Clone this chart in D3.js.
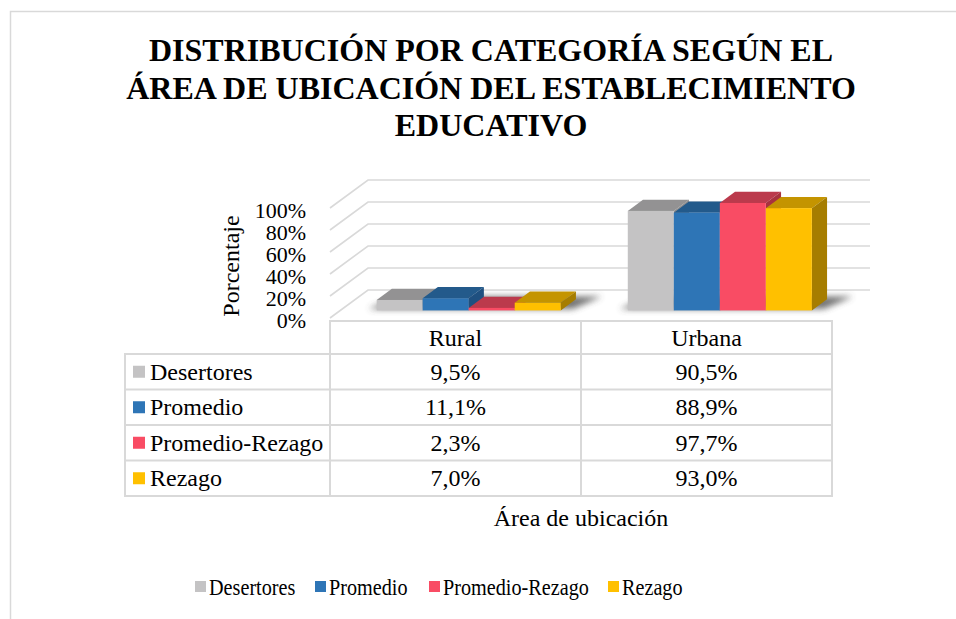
<!DOCTYPE html>
<html>
<head>
<meta charset="utf-8">
<script src="https://cdn.jsdelivr.net/npm/d3@7"></script>
<style>
  body { margin: 0; background: #fff; }
  text { font-family: "Liberation Serif", "Times New Roman", serif; fill: #000; }
</style>
</head>
<body>
<svg id="chart" width="956" height="619"></svg>
<script>
// data
var categories = ["Rural", "Urbana"];
var seriesNames = ["Desertores", "Promedio", "Promedio-Rezago", "Rezago"];
var desertores = [9.5, 90.5];
var promedio = [11.1, 88.9];
var promedioRezago = [2.3, 97.7];
var rezago = [7.0, 93.0];
var yTicks = [0, 20, 40, 60, 80, 100];
var titleLines = ["DISTRIBUCIÓN POR CATEGORÍA SEGÚN EL", "ÁREA DE UBICACIÓN DEL ESTABLECIMIENTO", "EDUCATIVO"];

var seriesValues = [desertores, promedio, promedioRezago, rezago];
// colours: front, top, side
var palette = [
    { front: "#c4c3c4", top: "#939293", side: "#8e8d8e" },
    { front: "#2e75b6", top: "#235a8b", side: "#1f5080" },
    { front: "#f94c64", top: "#bb3a4c", side: "#a8323f" },
    { front: "#ffc000", top: "#c49400", side: "#a67d00" }
];

var svg = d3.select("#chart");

// outer frame
svg.append("rect").attr("x", 10.5).attr("y", 11.5).attr("width", 980).attr("height", 640)
    .style("fill", "none").style("stroke", "#d9d9d9").style("stroke-width", 1.5);

// title
svg.append("g").selectAll("text").data(titleLines).enter().append("text")
    .attr("x", 491).attr("y", function (d, i) { return 61 + i * 37.5; })
    .attr("text-anchor", "middle")
    .style("font-size", "32px").style("font-weight", "bold")
    .text(function (d) { return d; });

// 3D geometry
var left = 330, right = 832;
var depthX = 38, depthY = -28;
var y = d3.scaleLinear().domain([0, 100]).range([318, 208]);
var x0 = d3.scaleBand().domain(categories).range([left, right]).paddingInner(0.267).paddingOuter(0.133);
var x1 = d3.scaleBand().domain(seriesNames).range([0, x0.bandwidth()]);
var colX = d3.scaleBand().domain(categories).range([left, right]);

function proj(px, v, z) { return [px + z * depthX, y(v) + z * depthY]; }
function poly(pts) { return pts.map(function (p) { return p[0] + "," + p[1]; }).join(" "); }

var defs = svg.append("defs");
defs.append("filter").attr("id", "blur").attr("x", "-50%").attr("y", "-50%").attr("width", "200%").attr("height", "200%")
    .append("feGaussianBlur").attr("stdDeviation", 3);

var grid = svg.append("g");
// back wall gridlines and side wall diagonals
yTicks.forEach(function (t) {
    var a = proj(left, t, 0), b = proj(left, t, 1), c = proj(right, t, 1);
    grid.append("polyline").attr("points", poly([a, b, c]))
        .style("fill", "none").style("stroke", "#d9d9d9").style("stroke-width", 1.6);
});

// y tick labels
svg.append("g").selectAll("text").data(yTicks).enter().append("text")
    .attr("x", 306).attr("y", function (d) { return y(d) + 10; })
    .attr("text-anchor", "end").style("font-size", "22px")
    .text(function (d) { return d + "%"; });

svg.append("text").attr("transform", "translate(239,266) rotate(-90)")
    .attr("text-anchor", "middle").style("font-size", "24px").text("Porcentaje");

// bars
var z0 = 0.27, z1 = 0.67;
var shift = 3;
var barsG = svg.append("g");
categories.forEach(function (cat, ci) {
    var gx = x0(cat) + shift;
    var gw = x0.bandwidth();
    // soft floor shadow
    var sh = [proj(gx - 10, 0, z0 + 0.05), proj(gx + gw + 10, 0, z0 + 0.05), proj(gx + gw + 22, 0, z1 + 0.1), proj(gx + 2, 0, z1 + 0.1)];
    barsG.append("polygon").attr("points", poly(sh)).style("fill", "#444").style("opacity", 0.75).attr("filter", "url(#blur)");
    seriesNames.forEach(function (s, si) {
        var v = seriesValues[si][ci];
        var bx = gx + x1(s), bw = x1.bandwidth();
        var col = palette[si];
        var g = barsG.append("g");
        // top face
        g.append("polygon").attr("points", poly([proj(bx, v, z0), proj(bx + bw, v, z0), proj(bx + bw, v, z1), proj(bx, v, z1)]))
            .style("fill", col.top);
        // side face
        g.append("polygon").attr("points", poly([proj(bx + bw, 0, z0), proj(bx + bw, 0, z1), proj(bx + bw, v, z1), proj(bx + bw, v, z0)]))
            .style("fill", col.side);
        // front face
        var p0 = proj(bx, v, z0), p1 = proj(bx + bw, 0, z0);
        g.append("rect").attr("x", p0[0]).attr("y", p0[1]).attr("width", p1[0] - p0[0]).attr("height", p1[1] - p0[1])
            .style("fill", col.front);
    });
});

// data table
var tableTop = 321, headerH = 33, rowH = 35.5, tableLeft = 125;
var tg = svg.append("g");
var lineStyle = function (sel) { return sel.style("stroke", "#d9d9d9").style("stroke-width", 2).style("fill", "none"); };
var tableBottom = tableTop + headerH + rowH * seriesNames.length;
// header box (only over data columns)
lineStyle(tg.append("rect").attr("x", left).attr("y", tableTop).attr("width", right - left).attr("height", headerH));
lineStyle(tg.append("rect").attr("x", tableLeft).attr("y", tableTop + headerH).attr("width", right - tableLeft).attr("height", rowH * seriesNames.length));
seriesNames.forEach(function (s, i) {
    if (i > 0) lineStyle(tg.append("line").attr("x1", tableLeft).attr("x2", right)
        .attr("y1", tableTop + headerH + i * rowH).attr("y2", tableTop + headerH + i * rowH));
});
categories.forEach(function (c, i) {
    lineStyle(tg.append("line").attr("x1", colX(c)).attr("x2", colX(c)).attr("y1", tableTop).attr("y2", tableBottom));
    tg.append("text").attr("x", colX(c) + colX.bandwidth() / 2).attr("y", tableTop + headerH / 2 + 8)
        .attr("text-anchor", "middle").style("font-size", "24px").text(c);
});
var fmt = function (v) { return v.toFixed(1).replace(".", ",") + "%"; };
seriesNames.forEach(function (s, si) {
    var cy = tableTop + headerH + si * rowH + rowH / 2;
    tg.append("rect").attr("x", 133).attr("y", cy - 6).attr("width", 12).attr("height", 12).style("fill", palette[si].front);
    tg.append("text").attr("x", 150).attr("y", cy + 8).style("font-size", "24px").text(s);
    categories.forEach(function (c, ci) {
        tg.append("text").attr("x", colX(c) + colX.bandwidth() / 2).attr("y", cy + 8)
            .attr("text-anchor", "middle").style("font-size", "24px").text(fmt(seriesValues[si][ci]));
    });
});

// x axis title
svg.append("text").attr("x", 581).attr("y", 526).attr("text-anchor", "middle")
    .style("font-size", "24px").text("Área de ubicación");

// legend (text slightly condensed as in the original)
var legendX = [195, 315, 429, 608];
var lg = svg.append("g").selectAll("g").data(seriesNames).enter().append("g")
    .attr("transform", function (d, i) { return "translate(" + legendX[i] + ",587)"; });
lg.append("rect").attr("x", 0).attr("y", -6).attr("width", 11).attr("height", 11)
    .style("fill", function (d, i) { return palette[i].front; });
lg.append("text").attr("transform", "translate(14,8) scale(0.86,1)").style("font-size", "23.5px")
    .text(function (d) { return d; });
</script>
</body>
</html>
